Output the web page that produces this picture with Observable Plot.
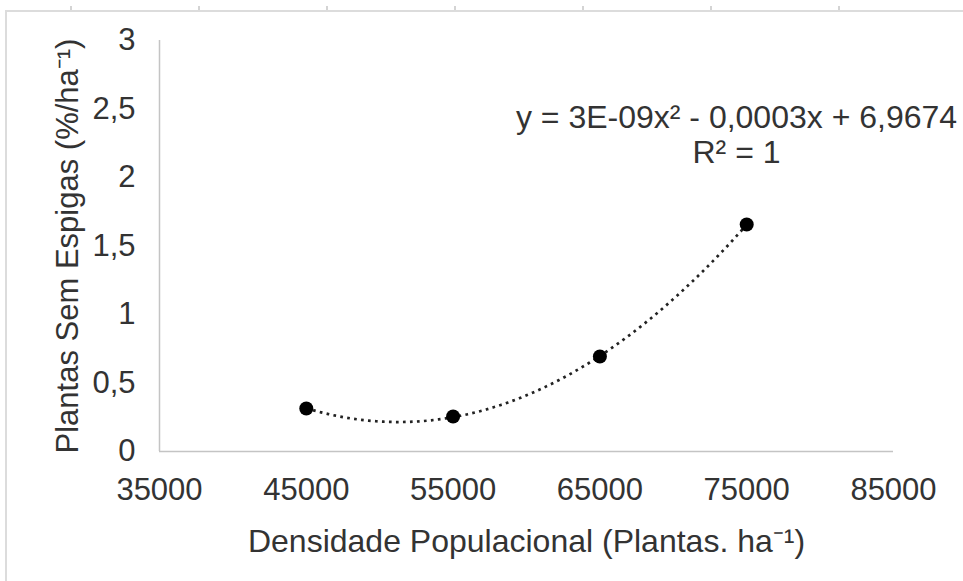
<!DOCTYPE html>
<html>
<head>
<meta charset="utf-8">
<script src="https://cdn.jsdelivr.net/npm/d3@7"></script>
<script src="https://cdn.jsdelivr.net/npm/@observablehq/plot@0.6"></script>
<style>
  html, body { margin: 0; padding: 0; background: #fff; }
  #wrap { position: relative; width: 963px; height: 581px; overflow: hidden; background: #fff; }
  #frameTop { position: absolute; left: 5px; top: 10px; right: 0; height: 0; border-top: 2px solid #dcdcdc; }
  #frameLeft { position: absolute; left: 5px; top: 10px; bottom: 0; width: 0; border-left: 2px solid #dcdcdc; }
  #rulerTicks { position: absolute; left: 0; top: 6px; width: 963px; height: 4px;
    background: repeating-linear-gradient(to right, transparent 0, transparent 70px, #d4d4d4 70px, #d4d4d4 72px, transparent 72px, transparent 128px);
    background-position: 0 0; }
  #chart { position: absolute; left: 0; top: 0; }
</style>
</head>
<body>
<div id="wrap">
  <div id="rulerTicks"></div>
  <div id="frameTop"></div>
  <div id="frameLeft"></div>
  <div id="chart"></div>
</div>
<script>
// ---- data ----
const densidade = [45000, 55000, 65000, 75000];
const semEspigas = [0.314, 0.255, 0.693, 1.657];
const xTicks = [35000, 45000, 55000, 65000, 75000, 85000];
const yTicks = [0, 0.5, 1, 1.5, 2, 2.5, 3];
const xTitle = "Densidade Populacional (Plantas. ha⁻¹)";
const yTitle = "Plantas Sem Espigas (%/ha⁻¹)";
const equationLines = ["y = 3E-09x² - 0,0003x + 6,9674", "R² = 1"];

const points = densidade.map((x, i) => ({x, y: semEspigas[i]}));

// ---- quadratic least-squares trendline (Excel "polynomial, order 2") ----
function quadFit(xs, ys) {
  const m = d3.mean(xs), s = 10000;
  const u = xs.map(x => (x - m) / s);
  const S = k => d3.sum(u, v => v ** k);
  const T = k => d3.sum(u, (v, i) => v ** k * ys[i]);
  const A = [[xs.length, S(1), S(2)], [S(1), S(2), S(3)], [S(2), S(3), S(4)]];
  const B = [T(0), T(1), T(2)];
  const det = M => M[0][0]*(M[1][1]*M[2][2]-M[1][2]*M[2][1]) - M[0][1]*(M[1][0]*M[2][2]-M[1][2]*M[2][0]) + M[0][2]*(M[1][0]*M[2][1]-M[1][1]*M[2][0]);
  const D = det(A);
  const coef = [0, 1, 2].map(j => det(A.map((row, r) => row.map((v, c) => c === j ? B[r] : v))) / D);
  return x => { const v = (x - m) / s; return coef[0] + coef[1] * v + coef[2] * v * v; };
}
const model = quadFit(densidade, semEspigas);
const [x0, x1] = d3.extent(densidade);
const trend = d3.range(0, 121).map(i => { const x = x0 + (x1 - x0) * i / 120; return {x, y: model(x)}; });

const fmtY = d => String(d).replace(".", ",");
const fmtX = d => String(d);

const chart = Plot.plot({
  width: 963,
  height: 581,
  marginLeft: 159,
  marginRight: 70,
  marginTop: 40,
  marginBottom: 130,
  style: {
    fontFamily: "'Liberation Sans', Arial, sans-serif",
    fontSize: "31px",
    color: "#333",
    background: "transparent",
    overflow: "visible"
  },
  x: {domain: [35000, 85000]},
  y: {domain: [0, 3]},
  marks: [
    Plot.axisX({ticks: xTicks, tickFormat: fmtX, tickSize: 0, tickPadding: 26, label: null}),
    Plot.axisY({ticks: yTicks, tickFormat: fmtY, tickSize: 0, tickPadding: 24, label: null}),
    Plot.ruleY([0], {stroke: "#c4c4c4", strokeWidth: 1.5}),
    Plot.ruleX([35000], {stroke: "#c4c4c4", strokeWidth: 1.5}),
    Plot.line(trend, {x: "x", y: "y", stroke: "#222", strokeWidth: 2.7, strokeDasharray: "2.7,4.3", strokeLinecap: "butt"}),
    Plot.dot(points, {x: "x", y: "y", r: 7, fill: "#000", stroke: "none"}),
    Plot.text([xTitle], {text: d => d, frameAnchor: "bottom", dy: 90, textAnchor: "middle", lineAnchor: "middle", fontSize: 32, fill: "#333"}),
    Plot.text([yTitle], {text: d => d, frameAnchor: "left", dx: -91, rotate: -90, textAnchor: "middle", lineAnchor: "middle", fontSize: 31, fill: "#333"}),
    Plot.text([equationLines.join("\n")], {text: d => d, frameAnchor: "top-right", dx: -157, dy: 94, textAnchor: "middle", lineAnchor: "middle", lineHeight: 1.1, fontSize: 32, fill: "#333"})
  ]
});
document.getElementById("chart").appendChild(chart);
</script>
</body>
</html>
